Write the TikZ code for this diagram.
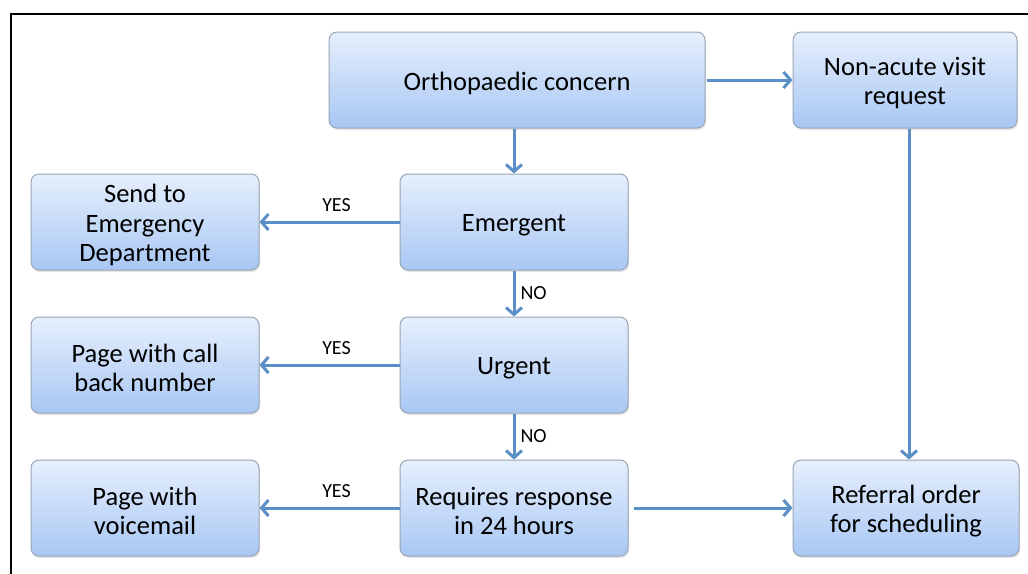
\documentclass[tikz,border=0pt]{standalone}
\usepackage{fontspec}
\setmainfont{Carlito}
\usetikzlibrary{arrows.meta,shadows}
\definecolor{arrowblue}{HTML}{5B8FC7}
\definecolor{boxtop}{HTML}{E6EFFC}
\definecolor{boxbot}{HTML}{A8C7F4}
\definecolor{boxline}{HTML}{9AA6B6}
\tikzset{
  flowbox/.style={rectangle, rounded corners=8pt, draw=boxline, line width=1pt,
    top color=boxtop, bottom color=boxbot, minimum width=228pt, minimum height=96pt,
    inner sep=0pt,
    drop shadow={opacity=0.2, shadow xshift=1pt, shadow yshift=-2pt}},
  boxtext/.style={align=center, font=\fontsize{26.5}{29.5}\selectfont, inner sep=0pt, yshift=-3pt},
  conn/.style={draw=arrowblue, line width=3pt, -{Straight Barb[length=7pt,width=16pt,line width=3pt]}},
  lbl/.style={font=\fontsize{20}{24}\selectfont, text=black, inner sep=1pt},
}
\begin{document}
\begin{tikzpicture}[x=1pt,y=-1pt]
\useasboundingbox (0,0) rectangle (1028,573);
\fill[white] (0,0) rectangle (1028,573);
\draw[line width=2pt, line cap=rect] (1028,14) -- (11,14) -- (11,573);

\node[flowbox, minimum width=376pt] (ortho) at (517,80) {};
\node[flowbox, minimum width=224pt] (nonacute) at (905,80) {};
\node[flowbox] (send) at (145,222) {};
\node[flowbox] (emergent) at (514,222) {};
\node[flowbox] (page1) at (145,365) {};
\node[flowbox] (urgent) at (514,365) {};
\node[flowbox] (page2) at (145,508) {};
\node[flowbox] (requires) at (514,508) {};
\node[flowbox, minimum width=226pt] (referral) at (906,508) {};

\node[boxtext] (ortho-t) at (ortho.center) {Orthopaedic concern};
\node[boxtext] (nonacute-t) at (nonacute.center) {Non-acute visit\\request};
\node[boxtext] (send-t) at (send.center) {Send to\\Emergency\\Department};
\node[boxtext] (emergent-t) at (emergent.center) {Emergent};
\node[boxtext] (page1-t) at (page1.center) {Page with call\\back number};
\node[boxtext] (urgent-t) at (urgent.center) {Urgent};
\node[boxtext] (page2-t) at (page2.center) {Page with\\voicemail};
\node[boxtext] (requires-t) at (requires.center) {Requires response\\in 24 hours};
\node[boxtext] (referral-t) at (referral.center) {Referral order\\for scheduling};

\draw[conn] (emergent.north |- ortho.south) -- (emergent.north);
\draw[conn] ([xshift=1pt]ortho.east) -- (nonacute.west);
\draw[conn] (emergent.west) -- node[lbl, pos=0.45, above=8pt] {YES} (send.east);
\draw[conn] (emergent.south) -- node[lbl, right=4pt] {NO} (urgent.north);
\draw[conn] (urgent.west) -- node[lbl, pos=0.45, above=8pt] {YES} (page1.east);
\draw[conn] (urgent.south) -- node[lbl, right=4pt] {NO} (requires.north);
\draw[conn] (requires.west) -- node[lbl, pos=0.45, above=8pt] {YES} (page2.east);
\draw[conn] ([xshift=5pt]requires.east) -- (referral.west);
\draw[conn] ([xshift=4pt]nonacute.south) -- ([xshift=4pt]nonacute.south |- referral.north);
\end{tikzpicture}
\end{document}
